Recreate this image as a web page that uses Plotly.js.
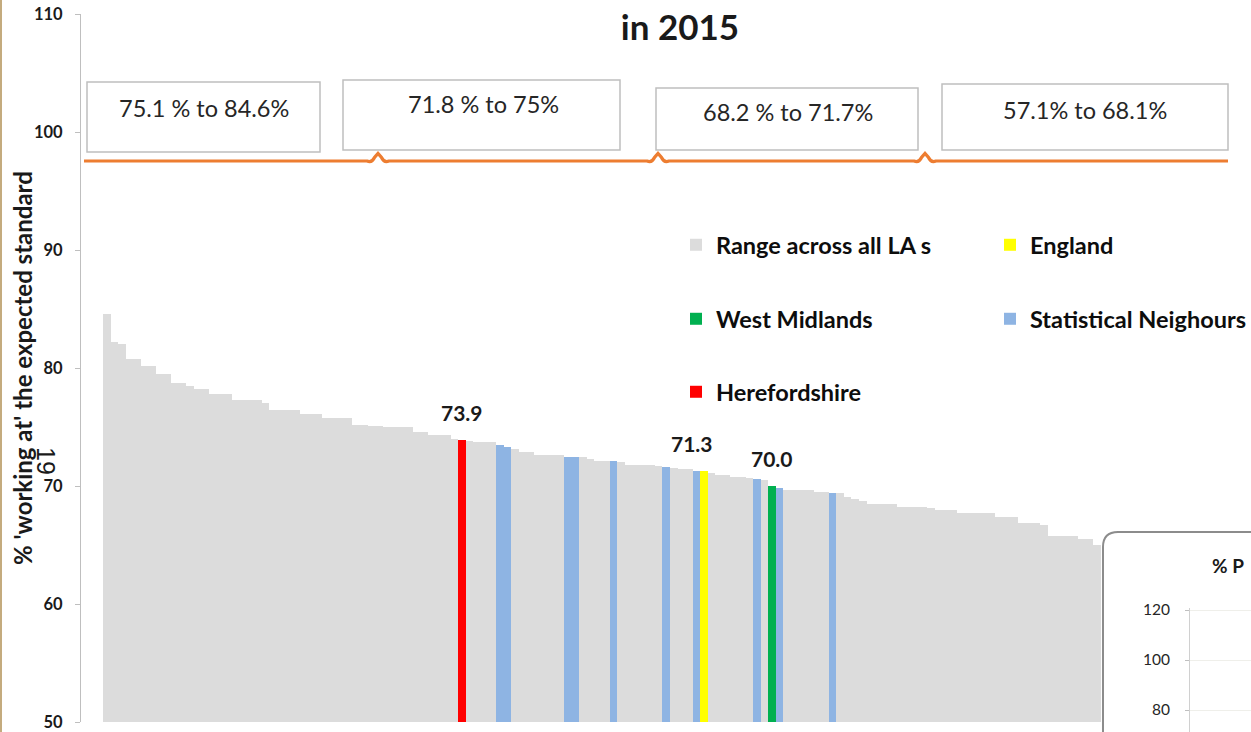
<!DOCTYPE html>
<html>
<head>
<meta charset="utf-8">
<script src="https://cdn.plot.ly/plotly-3.0.1.min.js"></script>
<style>
  html, body { margin: 0; padding: 0; background: #ffffff; }
  #chart { width: 1251px; height: 732px; }
</style>
</head>
<body>
<div id="chart"></div>
<script>
// ---------------- DATA ----------------
// Every local authority bar, in the order drawn (highest to lowest)
const laValues = [
  84.6, 82.2, 82.0, 80.8, 80.8, 80.2, 80.2, 79.5, 79.5, 78.7,
  78.7, 78.5, 78.2, 78.2, 77.8, 77.8, 77.8, 77.3, 77.3, 77.3,
  77.3, 77.0, 76.4, 76.4, 76.4, 76.4, 76.1, 76.1, 76.1, 75.8,
  75.8, 75.8, 75.8, 75.2, 75.2, 75.1, 75.1, 75.0, 75.0, 75.0,
  75.0, 74.6, 74.6, 74.3, 74.3, 74.3, 74.0, 73.9, 73.8, 73.7,
  73.7, 73.7, 73.5, 73.3, 73.1, 72.9, 72.9, 72.6, 72.6, 72.6,
  72.6, 72.5, 72.5, 72.5, 72.3, 72.1, 72.1, 72.1, 72.0, 71.8,
  71.8, 71.8, 71.8, 71.7, 71.6, 71.5, 71.4, 71.4, 71.3, 71.3,
  71.1, 70.9, 70.9, 70.8, 70.8, 70.7, 70.6, 70.5, 70.0, 69.8,
  69.7, 69.7, 69.7, 69.7, 69.5, 69.5, 69.4, 69.4, 69.1, 68.9,
  68.7, 68.5, 68.5, 68.5, 68.5, 68.2, 68.2, 68.2, 68.2, 68.1,
  68.0, 68.0, 68.0, 67.7, 67.7, 67.7, 67.7, 67.7, 67.4, 67.4,
  67.4, 66.9, 66.9, 66.9, 66.7, 65.8, 65.8, 65.8, 65.8, 65.5,
  65.5, 65.0
];
// Positions (rank in the list) of highlighted bars
const herefordshireRank = [47];
const englandRank = [79];
const westMidlandsRank = [88];
const statNeighbourRanks = [52, 53, 61, 62, 67, 74, 78, 86, 89, 96];

const seriesNames = ['Range across all LA s', 'England', 'West Midlands', 'Statistical Neighours', 'Herefordshire'];
const rangeLabels = ['75.1 % to 84.6%', '71.8 % to 75%', '68.2 % to 71.7%', '57.1% to 68.1%'];
const yTickVals = [50, 60, 70, 80, 90, 100, 110];
const insetTickVals = [80, 100, 120];
const titleText = 'in 2015';
const yTitleText = "% 'working at' the expected standard";
const insetTitleText = '% P';
const pageNumber = '19';

// ---------------- HELPERS (layout only) ----------------
const W = 1251, H = 732;
const px = x => x / W;
const py = y => 1 - y / H;
const FONT = 'Lato, "Open Sans", "DejaVu Sans", sans-serif';

const ranks = laValues.map((v, i) => i);
const pick = idx => idx.map(i => laValues[i]);

// ---------------- TRACES ----------------
const baseBar = { type: 'bar', width: 1, hoverinfo: 'x+y' };
const traces = [
  Object.assign({}, baseBar, { name: seriesNames[0], x: ranks, y: laValues, marker: { color: '#dcdcdc' }, legend: 'legend' }),
  Object.assign({}, baseBar, { name: seriesNames[1], x: englandRank, y: pick(englandRank), marker: { color: '#ffff00' }, legend: 'legend2' }),
  Object.assign({}, baseBar, { name: seriesNames[2], x: westMidlandsRank, y: pick(westMidlandsRank), marker: { color: '#00b050' }, legend: 'legend3' }),
  Object.assign({}, baseBar, { name: seriesNames[3], x: statNeighbourRanks, y: pick(statNeighbourRanks), marker: { color: '#8eb4e3' }, legend: 'legend4' }),
  Object.assign({}, baseBar, { name: seriesNames[4], x: herefordshireRank, y: pick(herefordshireRank), marker: { color: '#ff0000' }, legend: 'legend5' }),
  { type: 'scatter', x: [], y: [], xaxis: 'x2', yaxis: 'y2', showlegend: false, hoverinfo: 'skip' }
];

// ---------------- SHAPES ----------------
const shapes = [];
// left border line of page
shapes.push({ type: 'line', xref: 'paper', yref: 'paper', x0: px(1), x1: px(1), y0: 0, y1: 1, line: { color: '#c4ab7e', width: 2 } });

// range boxes
const boxes = [
  { x0: 87, x1: 320, y0: 82, y1: 152, tx: 204, ty: 108 },
  { x0: 343, x1: 620, y0: 80, y1: 150, tx: 483, ty: 104 },
  { x0: 656, x1: 918, y0: 88, y1: 150, tx: 788, ty: 112 },
  { x0: 942, x1: 1228, y0: 84, y1: 150, tx: 1085, ty: 110 }
];
boxes.forEach(b => shapes.push({
  type: 'rect', xref: 'paper', yref: 'paper', layer: 'above',
  x0: px(b.x0), x1: px(b.x1), y0: py(b.y1), y1: py(b.y0),
  line: { color: '#bfbfbf', width: 1.5 }, fillcolor: 'rgba(255,255,255,1)'
}));

// orange brace line
const peaks = [378, 658, 925];
const pt = (x, y) => px(x).toFixed(5) + ',' + py(y).toFixed(5);
let bracePath = 'M' + pt(84, 161);
peaks.forEach(p => {
  bracePath += ' L' + pt(p - 11, 161) + ' Q' + pt(p - 6, 163) + ' ' + pt(p - 3.5, 157.5) +
               ' L' + pt(p, 153.5) + ' L' + pt(p + 3.5, 157.5) + ' Q' + pt(p + 6, 163) + ' ' + pt(p + 11, 161);
});
bracePath += ' L' + pt(1228, 161);
shapes.push({ type: 'path', xref: 'paper', yref: 'paper', layer: 'above', path: bracePath, line: { color: '#ed7d31', width: 3.2 } });

// inset chart frame (rounded corner)
const insetPath = 'M' + pt(1103, 745) + ' L' + pt(1103, 547) + ' Q' + pt(1103, 532) + ' ' + pt(1118, 532) +
                  ' L' + pt(1262, 532) + ' L' + pt(1262, 745) + ' Z';
shapes.push({ type: 'path', xref: 'paper', yref: 'paper', layer: 'below', path: insetPath,
  line: { color: '#8c8c8c', width: 2 }, fillcolor: '#ffffff' });

// ---------------- ANNOTATIONS ----------------
const annotations = [];
boxes.forEach((b, i) => annotations.push({
  xref: 'paper', yref: 'paper', x: px(b.tx), y: py(b.ty), xanchor: 'center', yanchor: 'middle',
  text: rangeLabels[i], showarrow: false, font: { family: FONT, size: 23.5, color: '#262626' }
}));

// data labels
const labelFont = { family: FONT, size: 21, color: '#1a1a1a', weight: 'bold' };
[[herefordshireRank[0], 0], [englandRank[0], -12], [westMidlandsRank[0], 0]].forEach(([r, sh]) => {
  annotations.push({ xref: 'x', yref: 'y', x: r, y: laValues[r], xanchor: 'center', yanchor: 'bottom',
    yshift: 13, xshift: sh, text: laValues[r].toFixed(1), showarrow: false, font: labelFont });
});

// y-axis title
annotations.push({ xref: 'paper', yref: 'paper', x: px(22), y: py(368), xanchor: 'center', yanchor: 'middle',
  textangle: -90, text: yTitleText, showarrow: false, font: { family: FONT, size: 24, color: '#1a1a1a', weight: 'bold' } });
// page number
annotations.push({ xref: 'paper', yref: 'paper', x: px(46), y: py(461), xanchor: 'center', yanchor: 'middle',
  textangle: 90, text: pageNumber, showarrow: false, font: { family: '"Liberation Sans", Arial, sans-serif', size: 25, color: '#1a1a1a' } });
// inset title
annotations.push({ xref: 'paper', yref: 'paper', x: px(1210), y: py(565), xanchor: 'left', yanchor: 'middle',
  text: insetTitleText, showarrow: false, font: { family: FONT, size: 19, color: '#1a1a1a', weight: 'bold' } });

// ---------------- LAYOUT ----------------
const legendFont = { family: FONT, size: 23.5, color: '#0d0d0d', weight: 'bold' };
const mkLegend = (tx, cy) => ({ x: px(tx - 40), y: py(cy), xanchor: 'left', yanchor: 'middle',
  bgcolor: 'rgba(0,0,0,0)', borderwidth: 0, font: legendFont });

const barPitch = 7.56, firstBarLeft = 103, plotLeft = 81;
const x0 = -0.5 - (firstBarLeft - plotLeft) / barPitch;
const x1 = x0 + (W - plotLeft) / barPitch;

const layout = {
  width: W, height: H,
  margin: { l: 0, r: 0, t: 0, b: 0 },
  paper_bgcolor: '#ffffff', plot_bgcolor: 'rgba(0,0,0,0)',
  font: { family: FONT, color: '#1a1a1a' },
  barmode: 'overlay', bargap: 0,
  showlegend: true,
  title: { text: titleText, x: px(680), xanchor: 'center', y: py(28), yanchor: 'middle',
           font: { family: FONT, size: 35, color: '#1a1a1a', weight: 'bold' } },
  xaxis: { domain: [px(plotLeft), 1], range: [x0, x1], visible: false, fixedrange: true },
  yaxis: { domain: [py(722), py(14)], range: [50, 110], tickvals: yTickVals,
    showgrid: false, zeroline: false, showline: true, linecolor: '#bfbfbf', linewidth: 1,
    ticks: 'outside', ticklen: 5, tickcolor: '#bfbfbf', ticklabelstandoff: 9,
    tickfont: { family: FONT, size: 16.5, color: '#1a1a1a', weight: 'bold' }, fixedrange: true },
  xaxis2: { domain: [px(1190), 1], range: [0, 1], anchor: 'y2', visible: false, fixedrange: true },
  yaxis2: { domain: [0, py(608)], range: [120 - (732 - 610) / 2.5, 120 + 2 / 2.5], anchor: 'x2',
    tickvals: insetTickVals, showgrid: true, gridcolor: '#efefea', zeroline: false,
    showline: true, linecolor: '#d0d0d0', ticks: 'outside', ticklen: 4, tickcolor: '#bfbfbf',
    ticklabelstandoff: 12, tickfont: { family: FONT, size: 15.5, color: '#262626' }, fixedrange: true },
  legend: mkLegend(716, 245),
  legend2: mkLegend(1030, 245),
  legend3: mkLegend(716, 319),
  legend4: mkLegend(1030, 319),
  legend5: mkLegend(716, 392),
  shapes: shapes,
  annotations: annotations
};

Plotly.newPlot('chart', traces, layout, { displayModeBar: false, staticPlot: true });
</script>
</body>
</html>
